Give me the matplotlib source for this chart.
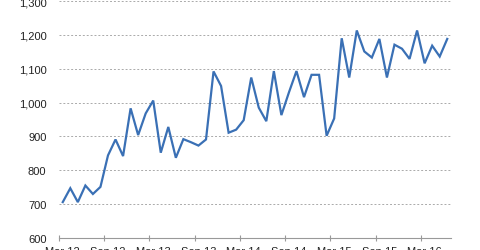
import numpy as np
import matplotlib
matplotlib.use("Agg")
import matplotlib.pyplot as plt

# Monthly values, Mar 12 .. Jun 16
values = [706, 747, 706, 755, 730, 751, 844, 891, 842, 983, 904, 968,
          1006, 852, 928, 837, 892, 883, 873, 891, 1092, 1049, 911, 920,
          948, 1074, 985, 945, 1093, 963, 1030, 1093, 1016, 1082, 1082, 902,
          953, 1190, 1074, 1213, 1151, 1133, 1188, 1074, 1171, 1159, 1129, 1213,
          1116, 1168, 1136, 1188]
tick_labels = ["Mar 12", "Sep 12", "Mar 13", "Sep 13", "Mar 14",
               "Sep 14", "Mar 15", "Sep 15", "Mar 16"]
y_ticks = [600, 700, 800, 900, 1000, 1100, 1200, 1300]

plt.rcParams["font.family"] = ["Liberation Sans", "DejaVu Sans"]

fig = plt.figure(figsize=(4.8, 2.51), dpi=100)
ax = fig.add_axes([0.1229, 0.0478, 0.8167, 0.9442])

x = np.arange(len(values))
ax.plot(x, values, color="#3a70b5", linewidth=1.6, solid_joinstyle="miter")

ax.set_xlim(-0.5, len(values) - 0.5)
ax.set_ylim(600, 1300)

# labels at category centres, tick marks on category boundaries
ax.set_xticks(np.arange(0, len(values), 6))
ax.set_xticklabels(tick_labels)
ax.set_xticks(np.arange(-0.5, len(values), 6), minor=True)
ax.tick_params(axis="x", which="major", length=0, pad=6, labelsize=8, labelcolor="#222222")
ax.tick_params(axis="x", which="minor", direction="inout", length=4, color="#999999", width=0.8)

ax.set_yticks(y_ticks)
ax.set_yticklabels([f"{v:,}" for v in y_ticks])
ax.tick_params(axis="y", length=0, pad=9, labelsize=8, labelcolor="#222222")

ax.grid(axis="y", color="#aaaaaa", linestyle=(0, (2, 2)), linewidth=0.7)
ax.set_axisbelow(True)

for side in ["top", "right", "left"]:
    ax.spines[side].set_visible(False)
ax.spines["bottom"].set_color("#999999")
ax.spines["bottom"].set_linewidth(0.8)

fig.savefig("out.png", dpi=100)
